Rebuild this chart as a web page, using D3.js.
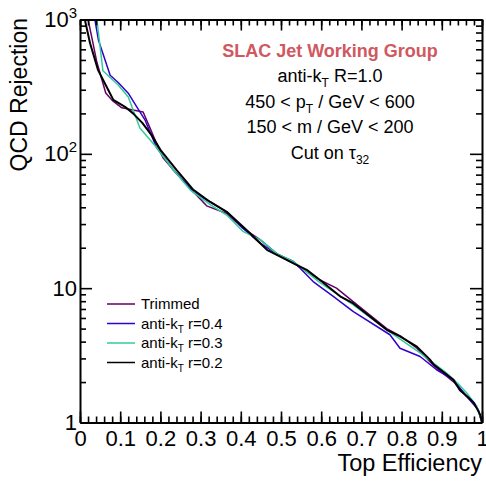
<!DOCTYPE html>
<html>
<head>
<meta charset="utf-8">
<script src="https://cdn.jsdelivr.net/npm/d3@7"></script>
<style>
body { margin: 0; background: #fff; }
svg { display: block; font-family: "Liberation Sans", Arial, sans-serif; }
.domain { stroke-width: 2; }
.tick line { stroke-width: 1.6; }
</style>
</head>
<body>
<svg id="chart" width="486" height="482"></svg>
<script>
// values: [top efficiency, QCD rejection]
const trimmed = [[0.02,1000],[0.03,720],[0.042,480],[0.064,284],[0.08,250],[0.104,220],[0.157,205],
    [0.174,156],[0.19,120],[0.207,93],[0.232,76],[0.27,57],[0.315,41],[0.365,36],[0.405,28],
    [0.448,23],[0.49,18],[0.53,15.5],[0.56,13.5],[0.597,11.5],[0.638,10],[0.705,6.9],[0.763,5.0],
    [0.8,4.35],[0.838,3.57],[0.88,2.65],[0.93,2.0],[0.945,1.77],[0.958,1.6],[0.975,1.45],[0.99,1.25],[1,1]];
const akt04 = [[0.037,1000],[0.046,700],[0.075,385],[0.095,340],[0.12,283],[0.142,222],[0.162,178],
    [0.19,112],[0.232,76],[0.282,52],[0.323,44],[0.365,37],[0.405,28],[0.448,21.6],[0.49,18],
    [0.531,15.8],[0.58,11.2],[0.63,8.7],[0.68,6.7],[0.771,4.5],[0.796,3.57],[0.846,3.1],[0.887,2.47],
    [0.929,2.08],[0.962,1.56],[0.991,1.24],[1,1]];
const akt03 = [[0.042,1000],[0.057,415],[0.095,325],[0.12,265],[0.149,156],[0.19,112],[0.232,76],
    [0.274,54],[0.323,42],[0.365,35],[0.405,26.5],[0.448,23],[0.49,18],[0.531,15.8],[0.597,11],
    [0.68,7.5],[0.763,4.9],[0.846,3.3],[0.912,2.33],[0.94,1.95],[0.962,1.66],[0.987,1.32],[1,1]];
const akt02 = [[0.012,1000],[0.025,665],[0.045,420],[0.07,300],[0.083,252],[0.112,224],[0.132,200],
    [0.155,170],[0.178,138],[0.2,107],[0.24,76],[0.282,54],[0.323,44],[0.365,37],[0.415,27],
    [0.465,19.3],[0.498,17.2],[0.531,15.3],[0.564,13.7],[0.597,11.5],[0.647,8.7],[0.68,7.7],
    [0.721,6.15],[0.763,4.9],[0.796,4.37],[0.838,3.67],[0.87,2.95],[0.88,2.7],[0.929,2.08],
    [0.945,1.74],[0.965,1.55],[0.98,1.4],[0.995,1.15],[1,1]];

const xTicks = [0, 0.1, 0.2, 0.3, 0.4, 0.5, 0.6, 0.7, 0.8, 0.9, 1];
const xTickLabels = ["0", "0.1", "0.2", "0.3", "0.4", "0.5", "0.6", "0.7", "0.8", "0.9", "1"];
const xMinor = d3.range(0, 51).map(i => i / 50);
const yTicks = [1, 10, 100, 1000];
const yTickBase = ["1", "10", "10", "10"];
const yTickExp = ["", "", "2", "3"];
const yMinor = [1, 10, 100].flatMap(d => [2, 3, 4, 5, 6, 7, 8, 9].map(k => k * d));

const series = [
    { name: "Trimmed", sub: "", rest: "", data: trimmed, color: "#660066", width: 1.5 },
    { name: "anti-k", sub: "T", rest: " r=0.4", data: akt04, color: "#3300cc", width: 1.5 },
    { name: "anti-k", sub: "T", rest: " r=0.3", data: akt03, color: "#33cc99", width: 1.5 },
    { name: "anti-k", sub: "T", rest: " r=0.2", data: akt02, color: "#000000", width: 2 },
];

const frame = { left: 80, right: 482, top: 19.5, bottom: 422.5 };

const x = d3.scaleLinear().domain([0, 1]).range([frame.left, frame.right]);
const y = d3.scaleLog().domain([1, 1000]).range([frame.bottom, frame.top]);

const svg = d3.select("#chart");

svg.append("clipPath").attr("id", "clip")
    .append("rect")
    .attr("x", frame.left).attr("y", frame.top)
    .attr("width", frame.right - frame.left)
    .attr("height", frame.bottom - frame.top);

// curves
const line = d3.line().x(d => x(d[0])).y(d => y(d[1]));
svg.append("g").attr("clip-path", "url(#clip)")
    .selectAll("path")
    .data(series)
    .join("path")
    .attr("d", s => line(s.data))
    .attr("fill", "none")
    .attr("stroke", s => s.color)
    .attr("stroke-width", s => s.width)
    .attr("stroke-linejoin", "round");

let addAxis = (axis, tx, ty) => {
    return svg.append("g")
        .attr("transform", `translate(${tx},${ty})`)
        .call(axis);
};

// bottom / top
addAxis(d3.axisBottom(x).tickValues(xMinor).tickSize(-6).tickFormat(""), 0, frame.bottom)
    .select(".domain").remove();
addAxis(d3.axisTop(x).tickValues(xMinor).tickSize(-6).tickFormat(""), 0, frame.top)
    .select(".domain").remove();
addAxis(d3.axisTop(x).tickValues(xTicks).tickSize(-11).tickSizeOuter(0).tickFormat(""), 0, frame.top);
const xAx = addAxis(d3.axisBottom(x).tickValues(xTicks).tickSize(-11).tickSizeOuter(0)
    .tickPadding(8).tickFormat((d, i) => xTickLabels[i]), 0, frame.bottom);
xAx.selectAll("text").attr("font-size", 22).attr("fill", "#000");

// left / right
addAxis(d3.axisLeft(y).tickValues(yMinor).tickSize(-6).tickFormat(""), frame.left, 0)
    .select(".domain").remove();
addAxis(d3.axisRight(y).tickValues(yMinor).tickSize(-6).tickFormat(""), frame.right, 0)
    .select(".domain").remove();
addAxis(d3.axisRight(y).tickValues(yTicks).tickSize(-12).tickSizeOuter(0).tickFormat(""), frame.right, 0);
const yAx = addAxis(d3.axisLeft(y).tickValues(yTicks).tickSize(-12).tickSizeOuter(0)
    .tickPadding(3).tickFormat(""), frame.left, 0);
yAx.selectAll(".tick text")
    .attr("font-size", 22).attr("fill", "#000")
    .each(function (d, i) {
        const t = d3.select(this);
        t.append("tspan").text(yTickBase[i]);
        if (yTickExp[i]) {
            t.append("tspan").attr("font-size", 15).attr("dy", "-0.6em").text(yTickExp[i]);
        }
    });

svg.selectAll(".domain").attr("stroke-width", 2);

// axis titles
svg.append("text")
    .attr("x", frame.right).attr("y", 471)
    .attr("text-anchor", "end")
    .attr("font-size", 23.5)
    .text("Top Efficiency");
svg.append("text")
    .attr("transform", "translate(26.5,18) rotate(-90)")
    .attr("text-anchor", "end")
    .attr("font-size", 23)
    .text("QCD Rejection");

// info box
const cx = 330;
svg.append("text")
    .attr("x", cx).attr("y", 57)
    .attr("text-anchor", "middle")
    .attr("font-size", 18).attr("font-weight", "bold")
    .attr("fill", "#d0585e")
    .text("SLAC Jet Working Group");

const info = [
    [["anti-k", 0], ["T", 1], [" R=1.0", 0]],
    [["450 < p", 0], ["T", 1], [" / GeV < 600", 0]],
    [["150 < m / GeV < 200", 0]],
    [["Cut on τ", 0], ["32", 1]],
];
info.forEach((parts, i) => {
    const t = svg.append("text")
        .attr("x", cx).attr("y", 82 + i * 25.5)
        .attr("text-anchor", "middle")
        .attr("font-size", 18);
    let low = false;
    parts.forEach(([s, sub]) => {
        const ts = t.append("tspan").text(s);
        if (sub && !low) { ts.attr("dy", 5).attr("font-size", 12); low = true; }
        else if (!sub && low) { ts.attr("dy", -5); low = false; }
    });
});

// legend
const leg = svg.append("g");
series.forEach((s, i) => {
    const ly = 304 + i * 19.5;
    leg.append("line")
        .attr("x1", 107).attr("x2", 135)
        .attr("y1", ly).attr("y2", ly)
        .attr("stroke", s.color).attr("stroke-width", 1.5);
    const t = leg.append("text")
        .attr("x", 141).attr("y", ly + 5)
        .attr("font-size", 15);
    t.append("tspan").text(s.name);
    if (s.sub) {
        t.append("tspan").attr("dy", 4).attr("font-size", 10).text(s.sub);
        t.append("tspan").attr("dy", -4).text(s.rest);
    }
});
</script>
</body>
</html>
